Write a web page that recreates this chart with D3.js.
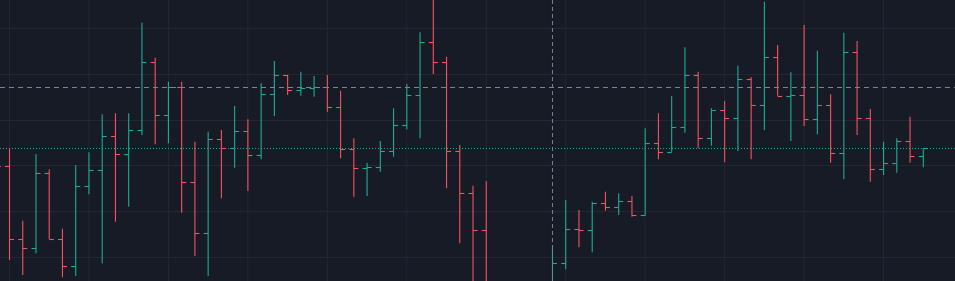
<!DOCTYPE html>
<html>
<head>
<meta charset="utf-8">
<script src="https://cdn.jsdelivr.net/npm/d3@7"></script>
<style>
  html, body { margin: 0; padding: 0; background: #171b26; overflow: hidden; }
</style>
</head>
<body>
<div id="chart"></div>
<script>
// Bar index of the first value (the bar at -1 is cut by the left edge)
var firstIndex = -1;

var opens = [150.50,
  149.96, 141.94, 140.92, 149.13, 141.94, 139.01, 147.74, 149.49, 153.21, 151.21,
  153.87, 161.28, 155.51, 158.54, 148.14, 142.56, 152.88, 151.87, 153.76, 151.13,
  157.78, 159.86, 158.25, 158.43, 158.54, 156.35, 151.76, 149.68, 149.79, 151.60,
  154.38, 157.73, 163.47, 161.31, 151.57, 146.94, 142.92, null, null, null,
  null, 135.81, 139.28, 143.00, 142.89, 145.91, 145.41, 146.10, 144.56, 152.48,
  151.49, 154.23, 159.89, 152.96, 156.06, 155.15, 159.42, 156.57, 161.89, 157.62,
  157.67, 155.07, 156.57, 151.32, 162.37, 155.15, 149.63, 150.22, 152.63, 151.02];

var highs = [151.20,
  151.90, 143.94, 151.24, 149.57, 143.06, 150.04, 151.43, 155.59, 155.70, 155.70,
  165.61, 161.78, 159.16, 159.16, 152.59, 153.68, 153.87, 156.50, 155.04, 158.98,
  161.42, 159.92, 160.25, 159.78, 159.89, 158.17, 152.96, 150.29, 152.66, 156.24,
  158.90, 164.56, 169.00, 161.89, 152.23, 147.77, 148.29, null, null, null,
  null, 141.09, 146.21, 145.11, 146.02, 147.11, 146.94, 146.64, 154.05, 155.70,
  157.59, 162.92, 160.25, 156.24, 157.04, 160.91, 159.64, 167.91, 163.17, 160.18,
  165.36, 162.55, 157.78, 164.52, 163.61, 156.17, 152.59, 152.96, 155.32, 151.87];

var lows = [149.20,
  139.64, 138.00, 140.37, 141.94, 137.75, 137.89, 146.83, 139.28, 143.83, 145.47,
  153.32, 152.30, 152.41, 144.82, 140.08, 137.89, 146.39, 149.74, 147.19, 150.66,
  155.40, 157.70, 157.62, 157.51, 155.87, 150.77, 146.57, 146.64, 149.30, 150.95,
  153.95, 152.96, 160.00, 147.49, 141.47, 135.26, 133.07, null, null, null,
  null, 135.26, 138.62, 141.03, 140.48, 145.04, 144.56, 144.38, 144.50, 150.66,
  151.49, 153.57, 151.87, 152.15, 150.33, 151.57, 150.66, 153.87, 157.62, 152.66,
  154.31, 153.40, 150.29, 148.47, 153.32, 148.21, 148.94, 149.19, 150.29, 149.79];

var closes = [149.96,
  141.94, 140.92, 149.13, 141.94, 139.01, 147.74, 149.49, 153.21, 151.21, 153.87,
  161.28, 155.51, 158.54, 148.14, 142.56, 152.88, 151.87, 153.76, 151.13, 157.78,
  159.86, 158.25, 158.43, 158.54, 156.35, 151.76, 149.68, 149.79, 151.60, 154.38,
  157.73, 163.47, 161.31, 151.57, 146.94, 142.92, 135.26, null, null, null,
  null, 139.28, 143.00, 142.89, 145.91, 145.41, 146.10, 144.56, 152.48, 151.49,
  154.23, 159.89, 152.96, 156.06, 155.15, 159.42, 156.57, 161.89, 157.62, 157.67,
  155.07, 156.57, 151.32, 162.37, 155.15, 149.63, 150.22, 152.63, 151.02, 151.87];

// Grid prices and crosshair position
var gridPrices = [140, 145, 150, 155, 160, 165];
var gridEvery = 6;
var crossIndex = 41;
var crossPrice = 158.58;

var svgWidth = 955;
var svgHeight = 281;

var upColor = "#22ab94";
var downColor = "#f7525f";

// build rows from the arrays
var bars = opens.map(function(o, i) {
  return { i: i + firstIndex, o: o, h: highs[i], l: lows[i], c: closes[i] };
}).filter(function(d) { return d.o != null; });

var lastIndex = firstIndex + opens.length - 1;

var svg = d3.select("#chart")
  .append("svg")
  .attr("width", svgWidth)
  .attr("height", svgHeight)
  .style("display", "block");

svg.append("rect")
  .attr("width", svgWidth)
  .attr("height", svgHeight)
  .attr("fill", "#171b26");

// scales
var xScale = d3.scaleLinear()
  .domain([firstIndex, lastIndex])
  .range([-3.74, 923.3]);

var yScale = d3.scaleLinear()
  .domain([140, 165])
  .range([256.7, 28.3]);

var py = function(v) { return Math.round(yScale(v)) + 0.5; };

// grid
var gridGroup = svg.append("g");

gridGroup.selectAll(".hgrid")
  .data(gridPrices)
  .enter()
  .append("line")
  .attr("x1", 0)
  .attr("x2", svgWidth)
  .attr("y1", d => py(d))
  .attr("y2", d => py(d))
  .attr("stroke", "#232733")
  .attr("stroke-width", 1);

gridGroup.selectAll(".vgrid")
  .data(d3.range(0, lastIndex + 1, gridEvery))
  .enter()
  .append("line")
  .attr("x1", d => xScale(d))
  .attr("x2", d => xScale(d))
  .attr("y1", 0)
  .attr("y2", svgHeight)
  .attr("stroke", "#232733")
  .attr("stroke-width", 1);

// last price line (dotted)
var lastBar = bars[bars.length - 1];
svg.append("line")
  .attr("x1", 0)
  .attr("x2", svgWidth)
  .attr("y1", py(lastBar.c))
  .attr("y2", py(lastBar.c))
  .attr("stroke", lastBar.c >= lastBar.o ? upColor : downColor)
  .attr("stroke-width", 1)
  .attr("stroke-dasharray", "1,2");

// OHLC bars
var tick = 4.5;
var barGroup = svg.append("g");
var barSel = barGroup.selectAll("g")
  .data(bars)
  .enter()
  .append("g")
  .attr("stroke", d => d.c >= d.o ? upColor : downColor)
  .attr("stroke-width", 1.1);

barSel.append("line")
  .attr("x1", d => xScale(d.i))
  .attr("x2", d => xScale(d.i))
  .attr("y1", d => yScale(d.h))
  .attr("y2", d => yScale(d.l));

barSel.append("line")
  .attr("x1", d => xScale(d.i) - tick)
  .attr("x2", d => xScale(d.i))
  .attr("y1", d => py(d.o))
  .attr("y2", d => py(d.o));

barSel.append("line")
  .attr("x1", d => xScale(d.i))
  .attr("x2", d => xScale(d.i) + tick)
  .attr("y1", d => py(d.c))
  .attr("y2", d => py(d.c));

// crosshair
svg.append("line")
  .attr("x1", xScale(crossIndex))
  .attr("x2", xScale(crossIndex))
  .attr("y1", 0)
  .attr("y2", svgHeight)
  .attr("stroke", "#758696")
  .attr("stroke-width", 1)
  .attr("stroke-dasharray", "4,3");

svg.append("line")
  .attr("x1", 0)
  .attr("x2", svgWidth)
  .attr("y1", py(crossPrice))
  .attr("y2", py(crossPrice))
  .attr("stroke", "#758696")
  .attr("stroke-width", 1)
  .attr("stroke-dasharray", "5,4");
</script>
</body>
</html>
